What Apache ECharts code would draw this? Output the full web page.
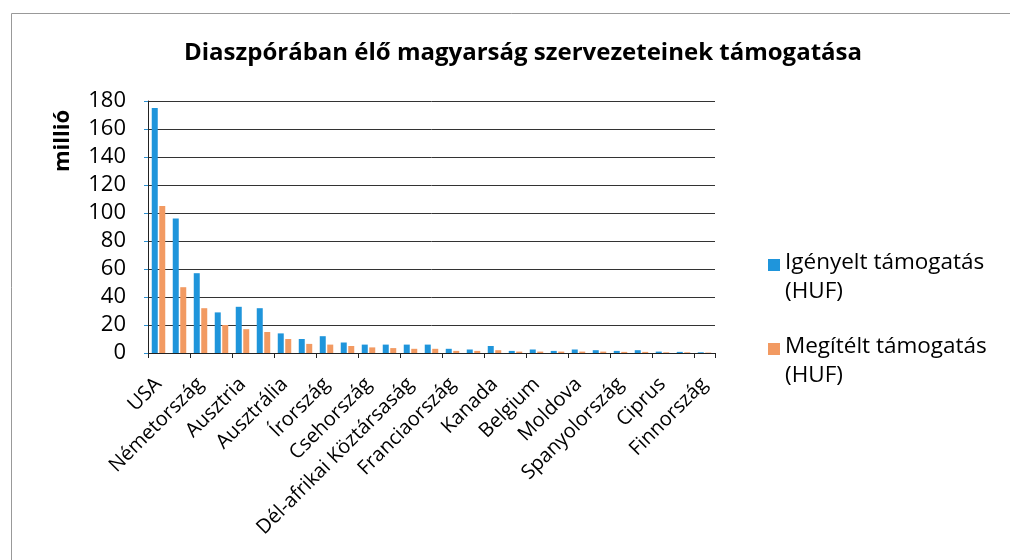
<!DOCTYPE html>
<html>
<head>
<meta charset="utf-8">
<script src="https://cdn.jsdelivr.net/npm/echarts@6/dist/echarts.min.js"></script>
<style>
  html, body { margin: 0; padding: 0; background: #fff; }
  #chart { width: 1010px; height: 560px; }
</style>
</head>
<body>
<div id="chart"></div>
<script>
// every other category label is hidden in the reference, those names are guesses
const countries = [
  'USA', 'Nagy-Britannia', 'Németország', 'Svájc', 'Ausztria', 'Hollandia',
  'Ausztrália', 'Svédország', 'Írország', 'Olaszország', 'Csehország', 'Brazília',
  'Dél-afrikai Köztársaság', 'Argentína', 'Franciaország', 'Izrael', 'Kanada',
  'Norvégia', 'Belgium', 'Dánia', 'Moldova', 'Venezuela', 'Spanyolország',
  'Chile', 'Ciprus', 'Új-Zéland', 'Finnország'
]
// millió HUF
const requested = [175, 96, 57, 29, 33, 32, 14, 10, 12, 7.5, 6, 6, 6, 6, 3, 2.5, 5, 1.5, 2.5, 1.5, 2.5, 2, 1.5, 2, 1, 0.8, 0.5]
const granted = [105, 47, 32, 20, 17, 15, 10, 6.5, 6, 5, 4, 3.5, 3, 3, 1.5, 1.5, 2, 1, 1, 1, 1, 1, 0.8, 0.8, 0.5, 0.5, 0.3]
const yTicks = [0, 20, 40, 60, 80, 100, 120, 140, 160, 180]

const font = 'Open Sans'
// square on top of a taller box, so the icon sits at the first text line
const icon = 'path://M0,0L10,0L10,10L0,10Z M0,30L0,30'

const chart = echarts.init(document.getElementById('chart'))
chart.setOption({
  animation: false,
  textStyle: { fontFamily: font, color: '#000' },
  title: {
    text: 'Diaszpórában élő magyarság szervezeteinek támogatása',
    left: 518,
    textAlign: 'center',
    top: 36,
    textStyle: { fontSize: 24, fontWeight: 'bold', color: '#000', fontFamily: font }
  },
  legend: {
    orient: 'vertical',
    left: 763,
    top: 243,
    itemWidth: 12,
    itemHeight: 36,
    itemGap: 26,
    icon: icon,
    formatter: function (name) { return name.replace(' (', '\n(') },
    textStyle: { fontSize: 22.5, lineHeight: 29, color: '#000', fontFamily: font }
  },
  grid: { left: 148, right: 295, top: 101, bottom: 207 },
  xAxis: {
    type: 'category',
    data: countries,
    axisLine: { lineStyle: { color: '#222', width: 1 } },
    axisTick: { show: true, alignWithLabel: false, length: 5, lineStyle: { color: '#222' } },
    axisLabel: { interval: 1, rotate: 45, fontSize: 20, color: '#000', margin: 28 }
  },
  yAxis: {
    type: 'value',
    min: yTicks[0],
    max: yTicks[yTicks.length - 1],
    interval: 20,
    axisLine: { show: true, lineStyle: { color: '#222' } },
    axisTick: { show: true, length: 4, lineStyle: { color: '#2a8fd0' } },
    axisLabel: { fontSize: 22, color: '#000', margin: 22 },
    splitLine: { lineStyle: { color: '#333', width: 1 } }
  },
  graphic: [
    {
      // chart frame, only its top and left edges are inside the picture
      type: 'rect',
      shape: { x: 11.5, y: 13.5, width: 1010, height: 560 },
      style: { fill: 'none', stroke: '#999', lineWidth: 1 }
    },
    {
      type: 'text',
      x: 63,
      y: 141,
      rotation: Math.PI / 2,
      style: {
        text: 'millió',
        fontFamily: font,
        fontSize: 22,
        fontWeight: 'bold',
        fill: '#000',
        align: 'center',
        verticalAlign: 'middle'
      }
    }
  ],
  series: [
    {
      name: 'Igényelt támogatás (HUF)',
      type: 'bar',
      data: requested,
      barWidth: 6,
      barGap: '25%',
      itemStyle: { color: '#1f95db' }
    },
    {
      name: 'Megítélt támogatás (HUF)',
      type: 'bar',
      data: granted,
      barWidth: 6,
      itemStyle: { color: '#f29a62' }
    }
  ]
})
</script>
</body>
</html>
